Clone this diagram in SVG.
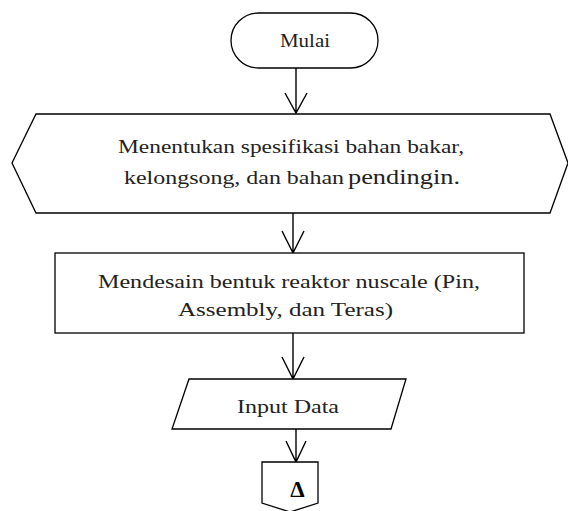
<svg xmlns="http://www.w3.org/2000/svg" width="568" height="511" viewBox="0 0 568 511">
<style>
.s{fill:#fff;stroke:#000;stroke-width:1.3}
.c{fill:none;stroke:#000;stroke-width:1.4}
.t{font-family:'Liberation Serif',serif;font-size:18.5px;fill:#222}
</style>
<rect width="568" height="511" fill="#fff"/>
<g id="connectors">
<path class="c" d="M296 68V113M285 93L296 113L307 93"/>
<path class="c" d="M293 213V253M282 231L293 253L304 231"/>
<path class="c" d="M293 333V379M282 357L293 379L304 357"/>
<path class="c" d="M296 429V462M286 441L296 462L306 441"/>
</g>
<g id="mulai">
<rect class="s" x="231" y="13" width="147" height="55" rx="27.5"/>
<text class="t" x="305" y="47" text-anchor="middle" textLength="50" lengthAdjust="spacingAndGlyphs">Mulai</text>
</g>
<g id="spesifikasi">
<polygon class="s" points="36,114 550,114 568,163 550,213 36,213 12,163"/>
<text class="t" x="118" y="153" textLength="346" lengthAdjust="spacingAndGlyphs">Menentukan spesifikasi bahan bakar,</text>
<text class="t" y="184"><tspan x="124" textLength="220" lengthAdjust="spacingAndGlyphs">kelongsong, dan bahan</tspan><tspan x="348" font-size="21" textLength="112" lengthAdjust="spacingAndGlyphs">pendingin.</tspan></text>
</g>
<g id="desain">
<rect class="s" x="55" y="253" width="469" height="80"/>
<text class="t" x="98" y="288" textLength="382" lengthAdjust="spacingAndGlyphs">Mendesain bentuk reaktor nuscale (Pin,</text>
<text class="t" x="178" y="316" textLength="215" lengthAdjust="spacingAndGlyphs">Assembly, dan Teras)</text>
</g>
<g id="input">
<polygon class="s" points="189,379 406,379 391,429 172,429"/>
<text class="t" x="237" y="413" textLength="102" lengthAdjust="spacingAndGlyphs">Input Data</text>
</g>
<g id="offpage">
<polygon class="s" points="262,462 318,462 318,503 290,512 262,503"/>
<text x="297.5" y="497" text-anchor="middle" font-family="'Liberation Serif',serif" font-size="23" font-weight="bold">Δ</text>
</g>
</svg>
